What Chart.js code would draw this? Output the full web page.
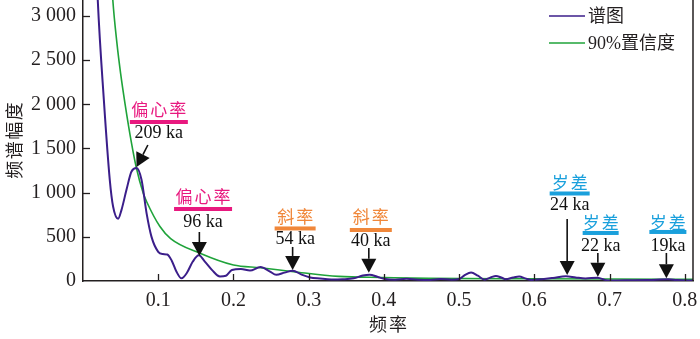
<!DOCTYPE html>
<html><head><meta charset="utf-8">
<script src="https://cdn.jsdelivr.net/npm/chart.js@4.4.0/dist/chart.umd.min.js"></script>
<style>html,body{margin:0;padding:0;background:#fff;}#wrap{width:700px;height:339px;position:relative;}</style>
</head><body><div id="wrap"><canvas id="c" width="700" height="339"></canvas></div>
<script>
// ---- data ----
const seriesNames = ['谱图', '90%置信度'];
const spectrumFreq = [0.012,0.016,0.0196,0.0277,0.0356,0.040,0.0467,0.0512,0.0578,0.0645,0.0712,0.0778,0.0845,0.091,0.100,0.106,0.112,0.118,0.124,0.131,0.138,0.146,0.154,0.162,0.172,0.182,0.190,0.198,0.210,0.222,0.236,0.248,0.257,0.268,0.279,0.290,0.302,0.315,0.330,0.345,0.360,0.372,0.381,0.392,0.400,0.415,0.430,0.445,0.462,0.475,0.490,0.500,0.508,0.516,0.525,0.534,0.542,0.549,0.556,0.562,0.572,0.580,0.588,0.596,0.610,0.625,0.642,0.655,0.668,0.684,0.698,0.720,0.750,0.778,0.790,0.811];
const spectrumAmp  = [5200,4000,3184,2052,1145,843,705,805,1032,1240,1278,1145,768,502,330,305,300,230,110,30,90,220,290,220,120,52,60,125,135,118,158,110,70,95,117,75,40,28,18,20,30,62,72,45,25,15,25,15,12,22,15,22,70,96,60,15,40,57,40,20,40,50,30,12,20,35,55,40,28,38,5,8,10,20,10,5];
const confFreq = [0.030,0.034,0.0396,0.045,0.050,0.056,0.0645,0.0707,0.080,0.0845,0.1023,0.1165,0.1556,0.200,0.236,0.280,0.340,0.400,0.460,0.600,0.700,0.811];
const confAmp  = [5000,4000,3184,2700,2350,2000,1560,1290,995,900,616,480,314,181,150,105,52,40,30,25,22,20];
const xTickValues = [0.1,0.2,0.3,0.4,0.5,0.6,0.7,0.8];
const xTickLabels = ['0.1','0.2','0.3','0.4','0.5','0.6','0.7','0.8'];
const yTickValues = [0,500,1000,1500,2000,2500,3000];
const yTickLabels = ['0','500','1 000','1 500','2 000','2 500','3 000'];
const xTitle = '频率';
const yTitle = '频谱幅度';
const annoGroup  = ['偏心率','偏心率','斜率','斜率','岁差','岁差','岁差'];
const annoPeriod = ['209 ka','96 ka','54 ka','40 ka','24 ka','22 ka','19ka'];
const annoFreq   = [0.0712,0.1547,0.2787,0.380,0.6437,0.6845,0.7756];
const annoAmp    = [1290,283,125,94,68,49,31];

// ---- styles / layout ----
const PINK = '#e8197f', ORANGE = '#f0873a', BLUE = '#1aa0dc';
const PURPLE = '#3b1e8a', GREEN = '#1fa33a', AXIS = '#231f20';
const annoStyle = [
  {color:PINK,   tail:[11.3,-22],  cx:22.3, gy:-57,   by:-45,   bw:29,   py:-34},
  {color:PINK,   tail:[0,-24],     cx:3.7,  gy:-59,   by:-47,   bw:29,   py:-34},
  {color:ORANGE, tail:[0,-23],     cx:2.5,  gy:-53,   by:-41.5, bw:20.5, py:-30.5},
  {color:ORANGE, tail:[0,-24.7],   cx:2,    gy:-55.7, by:-42.7, bw:21,   py:-31.7},
  {color:BLUE,   tail:[0,-56],     cx:2.5,  gy:-92,   by:-81.5, bw:20,   py:-70},
  {color:BLUE,   tail:[0,-23.7],   cx:2.8,  gy:-53.7, by:-43.7, bw:18,   py:-30.7},
  {color:BLUE,   tail:[0,-25.3],   cx:1.5,  gy:-55.3, by:-46.3, bw:18.5, py:-32.3}
];
const SERIF = '"Liberation Serif", "Noto Sans CJK SC", serif';
const CJK = '"Liberation Serif", "Noto Sans CJK SC", sans-serif';

function drawSpaced(ctx, text, cx, cy, pitch) {
  const chars = Array.from(text);
  chars.forEach((ch, i) => ctx.fillText(ch, cx + (i - (chars.length - 1) / 2) * pitch, cy));
}

const overlay = {
  id: 'overlay',
  afterDraw(chart) {
    const ctx = chart.ctx, ca = chart.chartArea;
    const xs = chart.scales.x, ys = chart.scales.y;
    ctx.save();
    // right border
    ctx.strokeStyle = AXIS; ctx.lineWidth = 1.5;
    ctx.beginPath(); ctx.moveTo(ca.right, ca.top); ctx.lineTo(ca.right, ca.bottom); ctx.stroke();
    // inner ticks
    ctx.lineWidth = 1.3;
    xTickValues.forEach(v => {
      const px = Math.round(xs.getPixelForValue(v)) + 0.5;
      ctx.beginPath(); ctx.moveTo(px, ca.bottom); ctx.lineTo(px, ca.bottom - 7); ctx.stroke();
    });
    yTickValues.forEach(v => {
      if (v === 0) return;
      const py = Math.round(ys.getPixelForValue(v)) + 0.5;
      ctx.beginPath(); ctx.moveTo(ca.left, py); ctx.lineTo(ca.left + 7, py); ctx.stroke();
    });
    // titles
    ctx.fillStyle = AXIS; ctx.textAlign = 'center'; ctx.textBaseline = 'middle';
    ctx.font = '18px ' + CJK;
    drawSpaced(ctx, xTitle, (ca.left + ca.right) / 2, 326, 20);
    ctx.save();
    ctx.translate(16, (ca.top + ca.bottom) / 2);
    ctx.rotate(-Math.PI / 2);
    drawSpaced(ctx, yTitle, 0, 0, 19.5);
    ctx.restore();
    // legend
    chart.data.datasets.forEach((ds, i) => {
      const y = 16 + i * 27;
      ctx.strokeStyle = ds.borderColor; ctx.lineWidth = 1.6;
      ctx.beginPath(); ctx.moveTo(549, y); ctx.lineTo(585, y); ctx.stroke();
      ctx.fillStyle = AXIS; ctx.textAlign = 'left'; ctx.font = '18px ' + CJK;
      ctx.fillText(ds.label, 588, y + 1);
    });
    // annotations
    annoFreq.forEach((f, i) => {
      const st = annoStyle[i];
      const tx = xs.getPixelForValue(f), ty = ys.getPixelForValue(annoAmp[i]);
      const cx = tx + st.cx;
      ctx.fillStyle = st.color; ctx.textAlign = 'center'; ctx.textBaseline = 'middle';
      ctx.font = '17px "Noto Sans CJK SC", sans-serif';
      drawSpaced(ctx, annoGroup[i], cx, ty + st.gy, 19);
      ctx.fillRect(cx - st.bw, ty + st.by - 2, st.bw * 2, 4);
      ctx.fillStyle = '#111'; ctx.font = '18px ' + SERIF;
      ctx.fillText(annoPeriod[i], cx, ty + st.py);
      // arrow
      const ax = tx + st.tail[0], ay = ty + st.tail[1];
      const dx = tx - ax, dy = ty - ay, len = Math.hypot(dx, dy);
      const ux = dx / len, uy = dy / len, hl = 14, hw = 7.5;
      const bx = tx - ux * hl, by = ty - uy * hl;
      ctx.strokeStyle = '#111'; ctx.lineWidth = 1.6;
      ctx.beginPath(); ctx.moveTo(ax, ay); ctx.lineTo(bx, by); ctx.stroke();
      ctx.fillStyle = '#111';
      ctx.beginPath(); ctx.moveTo(tx, ty);
      ctx.lineTo(bx - uy * hw, by + ux * hw);
      ctx.lineTo(bx + uy * hw, by - ux * hw);
      ctx.closePath(); ctx.fill();
    });
    ctx.restore();
  }
};

const toXY = (fs, as) => fs.map((f, i) => ({x: f, y: as[i]}));

new Chart(document.getElementById('c'), {
  type: 'line',
  data: {
    datasets: [
      {label: seriesNames[0], data: toXY(spectrumFreq, spectrumAmp), borderColor: PURPLE, borderWidth: 2, pointRadius: 0, cubicInterpolationMode: 'monotone', fill: false},
      {label: seriesNames[1], data: toXY(confFreq, confAmp), borderColor: GREEN, borderWidth: 1.6, pointRadius: 0, cubicInterpolationMode: 'monotone', fill: false}
    ]
  },
  options: {
    responsive: false, animation: false, devicePixelRatio: 1,
    layout: {padding: {left: 0, right: 7, top: 0, bottom: 0}},
    plugins: {legend: {display: false}, tooltip: {enabled: false}},
    scales: {
      x: {
        type: 'linear', min: 0, max: 0.811,
        afterBuildTicks: s => { s.ticks = xTickValues.map(v => ({value: v})); },
        afterFit: s => { s.height = 58; s.paddingLeft = 0; s.paddingRight = 0; },
        grid: {display: false, drawTicks: false},
        border: {display: true, color: AXIS, width: 1.5},
        ticks: {padding: 8, color: AXIS, font: {family: SERIF, size: 20}, maxRotation: 0,
          callback: (v) => { const i = xTickValues.findIndex(t => Math.abs(t - v) < 1e-9); return i >= 0 ? xTickLabels[i] : ''; }}
      },
      y: {
        type: 'linear', min: 0, max: 3180,
        afterBuildTicks: s => { s.ticks = yTickValues.map(v => ({value: v})); },
        afterFit: s => { s.width = 83; s.paddingTop = 0; s.paddingBottom = 0; },
        grid: {display: false, drawTicks: false},
        border: {display: true, color: AXIS, width: 1.5},
        ticks: {padding: 7, color: AXIS, font: {family: SERIF, size: 20},
          callback: (v) => { const i = yTickValues.indexOf(v); return i >= 0 ? yTickLabels[i] : ''; }}
      }
    }
  },
  plugins: [overlay]
});
</script>
</body></html>
